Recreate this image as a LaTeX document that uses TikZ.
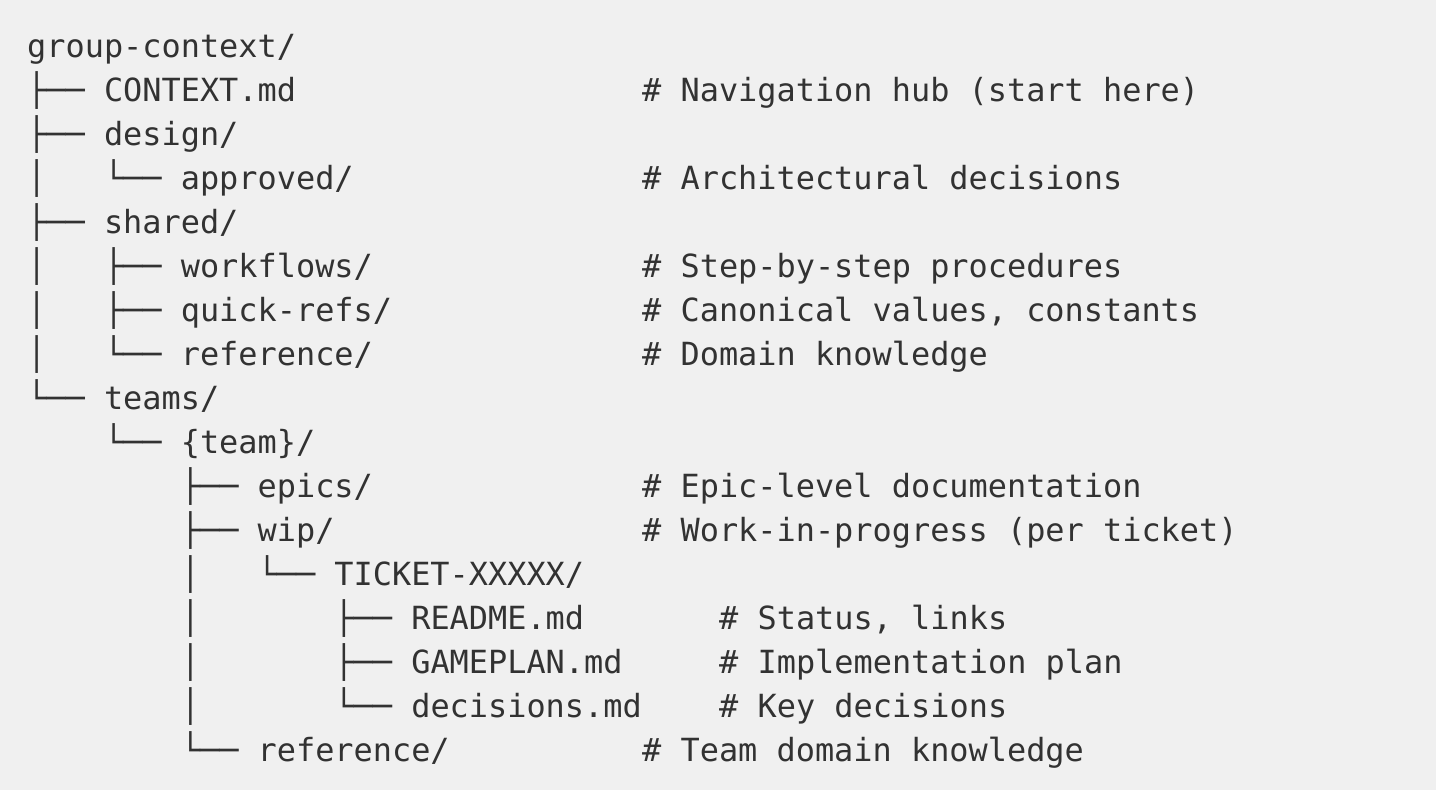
\documentclass[tikz,border=0pt]{standalone}
\usepackage{fontspec}
\setmonofont{DejaVu Sans Mono}
\usepackage{xcolor}
\definecolor{paper}{RGB}{240,240,240}
\definecolor{ink}{RGB}{50,50,50}

\tikzset{
  treeline/.style={anchor=base west, inner sep=0pt, text=ink,
    font=\ttfamily\fontsize{31.9}{44}\selectfont},
}

\begin{document}
\begin{tikzpicture}[x=1pt,y=1pt]
  % Background
  \fill[paper] (0,0) rectangle (1436,-790);
  \useasboundingbox (0,0) rectangle (1436,-790);

  % Tree
  \node[treeline] (root) at (27,-57) {group-context/};
  \node[treeline] (context) at (27,-101) {├──~CONTEXT.md};
  \node[treeline] (design) at (27,-145) {├──~design/};
  \node[treeline] (approved) at (27,-189) {│~~~└──~approved/};
  \node[treeline] (shared) at (27,-233) {├──~shared/};
  \node[treeline] (workflows) at (27,-277) {│~~~├──~workflows/};
  \node[treeline] (quickrefs) at (27,-321) {│~~~├──~quick-refs/};
  \node[treeline] (sharedref) at (27,-365) {│~~~└──~reference/};
  \node[treeline] (teams) at (27,-409) {└──~teams/};
  \node[treeline] (team) at (27,-453) {~~~~└──~\{team\}/};
  \node[treeline] (epics) at (27,-497) {~~~~~~~~├──~epics/};
  \node[treeline] (wip) at (27,-541) {~~~~~~~~├──~wip/};
  \node[treeline] (ticket) at (27,-585) {~~~~~~~~│~~~└──~TICKET-XXXXX/};
  \node[treeline] (readme) at (27,-629) {~~~~~~~~│~~~~~~~├──~README.md};
  \node[treeline] (gameplan) at (27,-673) {~~~~~~~~│~~~~~~~├──~GAMEPLAN.md};
  \node[treeline] (decisions) at (27,-717) {~~~~~~~~│~~~~~~~└──~decisions.md};
  \node[treeline] (teamref) at (27,-761) {~~~~~~~~└──~reference/};

  % Comments
  \node[treeline] (c-context) at (642,-101) {\#~Navigation~hub~(start~here)};
  \node[treeline] (c-approved) at (642,-189) {\#~Architectural~decisions};
  \node[treeline] (c-workflows) at (642,-277) {\#~Step-by-step~procedures};
  \node[treeline] (c-quickrefs) at (642,-321) {\#~Canonical~values,~constants};
  \node[treeline] (c-sharedref) at (642,-365) {\#~Domain~knowledge};
  \node[treeline] (c-epics) at (642,-497) {\#~Epic-level~documentation};
  \node[treeline] (c-wip) at (642,-541) {\#~Work-in-progress~(per~ticket)};
  \node[treeline] (c-readme) at (719,-629) {\#~Status,~links};
  \node[treeline] (c-gameplan) at (719,-673) {\#~Implementation~plan};
  \node[treeline] (c-decisions) at (719,-717) {\#~Key~decisions};
  \node[treeline] (c-teamref) at (642,-761) {\#~Team~domain~knowledge};
\end{tikzpicture}
\end{document}
